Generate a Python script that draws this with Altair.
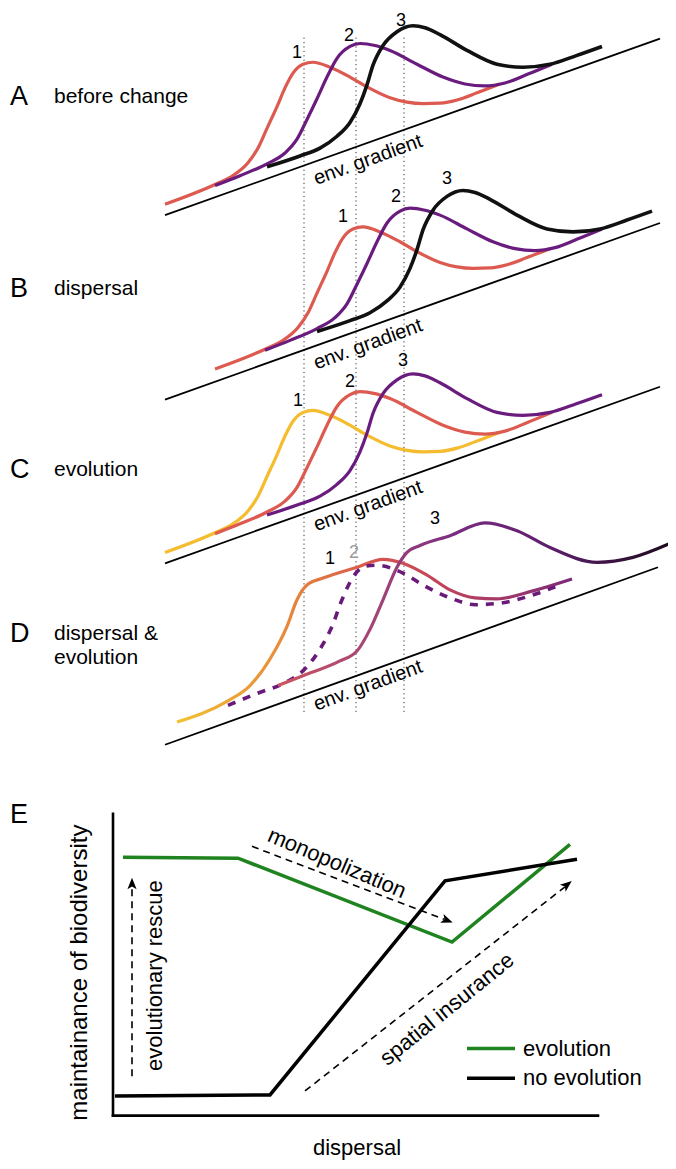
import altair as alt
import pandas as pd

# ---------------- data (reference pixel coordinates) ----------------
# Panel A curve shapes; B and C reuse them shifted
c1_x = [165, 215, 233, 248, 258, 267, 277, 285, 293, 303, 313, 330, 350, 367, 390, 407, 423, 440, 458, 477, 500]
c1_y = [199, 179, 170, 157, 142, 122, 100, 81, 66, 57, 55, 60, 70, 80, 91, 95.5, 97, 96.5, 93, 86, 77]
c2_x = [215, 240, 267, 285, 297, 307, 317, 327, 337, 350, 360, 375, 390, 417, 443, 465, 485, 505, 528, 552]
c2_y = [180, 170, 158, 147, 133, 113, 92, 70, 51, 39, 36, 38, 43, 57, 70, 77, 79, 76, 67, 57]
c3_x = [267, 300, 320, 337, 350, 360, 367, 373, 383, 397, 413, 425, 440, 467, 497, 523, 550, 577, 602]
c3_y = [161, 150, 142, 130, 116, 97, 78, 58, 38, 24, 18, 20, 27, 43, 57, 60, 57, 48, 39]

panels = ["A", "B", "C"]
panel_dx = [0, 50, 0]
panel_dy = [0, 167, 353]
panel_colors = [["#dc5a4f", "#6a1c7e", "#111111"],
                ["#dc5a4f", "#6a1c7e", "#111111"],
                ["#f4bc2e", "#dc5a4f", "#6a1c7e"]]

# Panel D curves
d1_x = [177, 227, 250, 270, 287, 297, 307, 323, 357, 383, 403, 427, 450, 475, 497, 533, 572]
d1_y = [724, 703, 687, 660, 627, 600, 585, 578, 567, 559, 563, 575, 590, 598, 599, 591, 579]
d2_x = [228, 257, 285, 305, 320, 332, 342, 353, 365, 376, 403, 423, 450, 475, 503, 527, 560]
d2_y = [707, 695, 684, 670, 650, 627, 600, 577, 566, 565, 573, 585, 598, 605, 603, 597, 585]
d3_x = [278, 303, 340, 357, 370, 383, 397, 407, 420, 450, 485, 517, 550, 597, 633, 672]
d3_y = [687, 677, 662, 652, 630, 600, 567, 552, 545, 535, 522, 530, 547, 562, 557, 542]

# environmental gradient baselines (A..D)
base_x1 = [165, 165, 165, 165]
base_y1 = [210, 397, 563, 747]
base_x2 = [660, 660, 660, 658]
base_y2 = [31, 218, 384, 567]

# dotted guides
guide_x = [304, 356, 404]
guide_top = 30
guide_bottom = 717

# Panel E
green_x = [123, 238, 452, 570]
green_y = [861, 862, 947, 848]
black_x = [115, 270, 445, 577]
black_y = [1103, 1102, 885, 863]

# ---------------- frames ----------------
rows = []
for p, dx, dy, cols in zip(panels, panel_dx, panel_dy, panel_colors):
    for k, (xs_, ys_) in enumerate([(c1_x, c1_y), (c2_x, c2_y), (c3_x, c3_y)]):
        for i, (xv, yv) in enumerate(zip(xs_, ys_)):
            rows.append({"id": f"{p}{k}", "i": i, "x": xv + dx, "y": yv + dy,
                         "color": cols[k], "w": 3.6 if cols[k] == "#111111" else 3.2})
curves = pd.DataFrame(rows)

d1 = pd.DataFrame({"x": d1_x, "y": d1_y, "i": range(len(d1_x))})
d2 = pd.DataFrame({"x": d2_x, "y": d2_y, "i": range(len(d2_x))})
d3 = pd.DataFrame({"x": d3_x, "y": d3_y, "i": range(len(d3_x))})

bases = pd.DataFrame({"x": base_x1, "y": base_y1, "x2": base_x2, "y2": base_y2})
guides = pd.DataFrame({"x": guide_x, "y": [guide_top] * 3, "y2": [guide_bottom] * 3})

e_lines = pd.DataFrame({
    "id": ["g"] * 4 + ["k"] * 4,
    "i": list(range(4)) * 2,
    "x": green_x + black_x,
    "y": green_y + black_y,
    "color": ["#1f831f"] * 4 + ["#000000"] * 4,
})
axes_df = pd.DataFrame({"x": [113, 113], "y": [817, 1123], "x2": [113, 598], "y2": [1123, 1123]})
legend_df = pd.DataFrame({"x": [467, 467], "x2": [515, 515], "y": [1055, 1085], "y2": [1055, 1085],
                          "color": ["#1f831f", "#000000"]})
arrows = pd.DataFrame({"x": [132, 252, 305], "y": [1083, 850, 1098],
                       "x2": [132, 444, 565], "y2": [893, 924, 891]})
heads = pd.DataFrame({"x": [132, 447, 567], "y": [888, 925, 889], "angle": [0, 111, 51]})

texts_left = pd.DataFrame({
    "x": [10, 10, 10, 10, 10, 54, 54, 54, 54, 54, 523, 523],
    "y": [90, 285, 468, 635, 818, 90, 285, 468, 635, 659, 1055, 1085],
    "text": ["A", "B", "C", "D", "E", "before change", "dispersal", "evolution",
             "dispersal &", "evolution", "evolution", "no evolution"],
    "size": [27, 27, 27, 27, 27, 21, 21, 21, 21, 21, 22, 22],
})

num_x = [297, 349, 401, 343, 396, 447, 298, 350, 403, 330, 354, 435]
num_y = [46, 28, 13, 212, 192, 173, 398, 379, 358, 559, 553, 518]
num_t = ["1", "2", "3"] * 4
num_c = ["#000000"] * 10 + ["#9a9a9a", "#000000"]

env_x = [368, 368, 368, 368]
env_y = [154, 341, 505, 687]

texts_center = pd.DataFrame({
    "x": num_x + env_x + [80, 357, 155, 337, 447],
    "y": num_y + env_y + [978, 1156, 981, 867, 1015],
    "text": num_t + ["env. gradient"] * 4 + ["maintainance of biodiversity", "dispersal",
                                             "evolutionary rescue", "monopolization", "spatial insurance"],
    "size": [18] * 12 + [20] * 4 + [24, 22, 22, 22, 22],
    "angle": [0] * 12 + [340] * 4 + [270, 0, 270, 23, 321],
    "color": num_c + ["#000000"] * 9,
})

# ---------------- chart ----------------
xs = alt.Scale(domain=[8, 668], nice=False, zero=False)
ys = alt.Scale(domain=[0, 1169], nice=False, zero=False, reverse=True)
X = alt.X("x:Q", scale=xs, axis=None)
Y = alt.Y("y:Q", scale=ys, axis=None)
FONT = "Liberation Sans"

guide_layer = alt.Chart(guides).mark_rule(color="#333333", strokeWidth=1, strokeDash=[1.2, 3.2]).encode(
    x=X, y=Y, y2="y2:Q")
base_layer = alt.Chart(bases).mark_rule(color="#000000", strokeWidth=1.8).encode(
    x=X, y=Y, x2="x2:Q", y2="y2:Q")
curve_layer = alt.Chart(curves).mark_line(interpolate="monotone", strokeCap="butt").encode(
    x=X, y=Y, detail="id:N", order="i:Q",
    color=alt.Color("color:N", scale=None),
    strokeWidth=alt.StrokeWidth("w:Q", scale=None))

d1_layer = alt.Chart(d1).mark_line(
    interpolate="monotone", strokeWidth=3.2,
    color=alt.Gradient(gradient="linear", x1=0, x2=1, y1=0, y2=0, stops=[
        alt.GradientStop(color="#f2c233", offset=0),
        alt.GradientStop(color="#e6883c", offset=0.28),
        alt.GradientStop(color="#d9544d", offset=0.5),
        alt.GradientStop(color="#b8405f", offset=0.72),
        alt.GradientStop(color="#7c2a7a", offset=1)])).encode(x=X, y=Y, order="i:Q")
d2_layer = alt.Chart(d2).mark_line(interpolate="monotone", strokeWidth=3.6, color="#6a1b7a",
                                   strokeDash=[8, 8]).encode(x=X, y=Y, order="i:Q")
d3_layer = alt.Chart(d3).mark_line(
    interpolate="monotone", strokeWidth=3.2,
    color=alt.Gradient(gradient="linear", x1=0, x2=1, y1=0, y2=0, stops=[
        alt.GradientStop(color="#cf5560", offset=0),
        alt.GradientStop(color="#a14478", offset=0.25),
        alt.GradientStop(color="#7a2c82", offset=0.45),
        alt.GradientStop(color="#5c1e6a", offset=0.7),
        alt.GradientStop(color="#1c0a1c", offset=1)])).encode(x=X, y=Y, order="i:Q")

axes_layer = alt.Chart(axes_df).mark_rule(color="#000000", strokeWidth=2.6, strokeCap="square").encode(
    x=X, y=Y, x2="x2:Q", y2="y2:Q")
e_layer = alt.Chart(e_lines).mark_line(strokeWidth=3.5).encode(
    x=X, y=Y, detail="id:N", order="i:Q", color=alt.Color("color:N", scale=None))
legend_layer = alt.Chart(legend_df).mark_rule(strokeWidth=3.5).encode(
    x=X, y=Y, x2="x2:Q", y2="y2:Q", color=alt.Color("color:N", scale=None))
arrow_layer = alt.Chart(arrows).mark_rule(color="#000000", strokeWidth=1.6, strokeDash=[7, 5]).encode(
    x=X, y=Y, x2="x2:Q", y2="y2:Q")
head_layer = alt.Chart(heads).mark_point(
    shape="M0,-1L0.75,0.9L0,0.45L-0.75,0.9Z", filled=True, color="#000000", opacity=1, size=150,
    strokeWidth=0).encode(x=X, y=Y, angle=alt.Angle("angle:Q", scale=None))

tl_layer = alt.Chart(texts_left).mark_text(align="left", baseline="middle", font=FONT, color="#000000").encode(
    x=X, y=Y, text="text:N", size=alt.Size("size:Q", scale=None))
tc_layer = alt.Chart(texts_center).mark_text(align="center", baseline="middle", font=FONT).encode(
    x=X, y=Y, text="text:N", size=alt.Size("size:Q", scale=None),
    angle=alt.Angle("angle:Q", scale=None), color=alt.Color("color:N", scale=None))

chart = alt.layer(
    guide_layer, base_layer, curve_layer, d1_layer, d2_layer, d3_layer,
    axes_layer, e_layer, legend_layer, arrow_layer, head_layer, tl_layer, tc_layer,
).properties(
    width=660, height=1153, padding=0, autosize=alt.AutoSizeParams(type="none")
).configure_view(stroke=None)

chart.save("out.html", embed_options={"renderer": "svg", "actions": False})
